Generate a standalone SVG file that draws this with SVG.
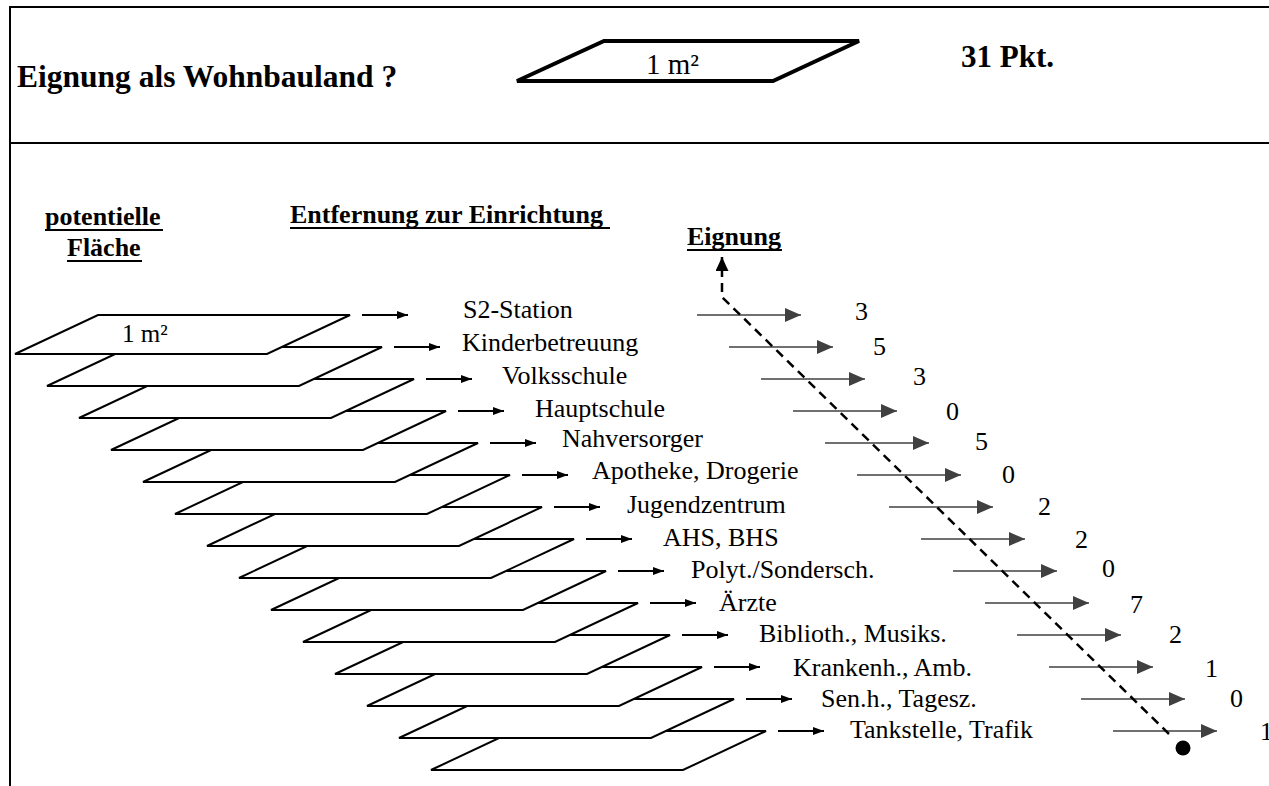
<svg xmlns="http://www.w3.org/2000/svg" width="1269" height="786" viewBox="0 0 1269 786">
<defs>
<marker id="ah" viewBox="0 0 10 10" refX="10" refY="5" markerWidth="11" markerHeight="8" markerUnits="userSpaceOnUse" orient="auto" preserveAspectRatio="none"><path d="M0,0 L10,5 L0,10 z" fill="#000"/></marker>
<marker id="ahg" viewBox="0 0 10 10" refX="10" refY="5" markerWidth="16" markerHeight="14" markerUnits="userSpaceOnUse" orient="auto" preserveAspectRatio="none"><path d="M0,0 L10,5 L0,10 z" fill="#404040"/></marker>
<marker id="ahb" viewBox="0 0 10 10" refX="10" refY="5" markerWidth="14" markerHeight="13" markerUnits="userSpaceOnUse" orient="auto" preserveAspectRatio="none"><path d="M0,0 L10,5 L0,10 z" fill="#000"/></marker>
</defs>
<style>
.t{font-family:"Liberation Serif","Times New Roman",serif;fill:#000}
.b{font-weight:bold}
.lbl{font-size:26px}
.num{font-size:26px}
.hd{font-size:26px;font-weight:bold}
.pg{fill:#fff;stroke:#000;stroke-width:2}
.la{stroke:#000;stroke-width:2;marker-end:url(#ah)}
.ra{stroke:#404040;stroke-width:1.6;marker-end:url(#ahg)}
.ln{stroke:#000;stroke-width:2;fill:none}
.ul{stroke:#000;stroke-width:2}
</style>
<rect width="1269" height="786" fill="#fff"/>
<g id="frame">
<line class="ln" x1="10" y1="7" x2="10" y2="786"/>
<line class="ln" x1="9" y1="7" x2="1269" y2="7"/>
<line class="ln" x1="9" y1="143" x2="1269" y2="143"/>
</g>
<g id="header">
<text class="t b" x="17" y="87" font-size="31.5">Eignung als Wohnbauland ?</text>
<polygon points="517,81 604,41 859,41 773,81" fill="#fff" stroke="#000" stroke-width="4" stroke-linejoin="miter"/>
<text class="t" x="646" y="74" font-size="29">1 m²</text>
<text class="t b" x="961" y="67" font-size="31">31 Pkt.</text>
</g>
<g id="headings">
<text class="t hd" x="45" y="225">potentielle</text>
<line class="ul" x1="45" y1="230" x2="163" y2="230"/>
<text class="t hd" x="67" y="256">Fläche</text>
<line class="ul" x1="67" y1="261" x2="142" y2="261"/>
<text class="t hd" x="290" y="223">Entfernung zur Einrichtung</text>
<line class="ul" x1="290" y1="228" x2="610" y2="228"/>
<text class="t hd" x="687" y="245">Eignung</text>
<line class="ul" x1="687" y1="250" x2="782" y2="250"/>
</g>
<g id="stack">
<polygon class="pg" points="431,770 514,731 766,731 683,770"/>
<polygon class="pg" points="399,738 482,699 734,699 651,738"/>
<polygon class="pg" points="367,706 450,667 702,667 619,706"/>
<polygon class="pg" points="335,674 418,635 670,635 587,674"/>
<polygon class="pg" points="303,642 386,603 638,603 555,642"/>
<polygon class="pg" points="271,610 354,571 606,571 523,610"/>
<polygon class="pg" points="239,578 322,539 574,539 491,578"/>
<polygon class="pg" points="207,546 290,507 542,507 459,546"/>
<polygon class="pg" points="175,514 258,475 510,475 427,514"/>
<polygon class="pg" points="143,482 226,443 478,443 395,482"/>
<polygon class="pg" points="111,450 194,411 446,411 363,450"/>
<polygon class="pg" points="79,418 162,379 414,379 331,418"/>
<polygon class="pg" points="47,386 130,347 382,347 299,386"/>
<polygon class="pg" points="15,354 98,315 350,315 267,354"/>
<text class="t" x="122" y="342" font-size="25">1 m²</text>
</g>
<g id="connectors">
<line class="la" x1="362" y1="315" x2="408" y2="315"/>
<line class="la" x1="394" y1="347" x2="440" y2="347"/>
<line class="la" x1="426" y1="379" x2="472" y2="379"/>
<line class="la" x1="458" y1="411" x2="504" y2="411"/>
<line class="la" x1="490" y1="443" x2="536" y2="443"/>
<line class="la" x1="522" y1="475" x2="568" y2="475"/>
<line class="la" x1="554" y1="507" x2="600" y2="507"/>
<line class="la" x1="586" y1="539" x2="632" y2="539"/>
<line class="la" x1="618" y1="571" x2="664" y2="571"/>
<line class="la" x1="650" y1="603" x2="696" y2="603"/>
<line class="la" x1="682" y1="635" x2="728" y2="635"/>
<line class="la" x1="714" y1="667" x2="760" y2="667"/>
<line class="la" x1="746" y1="699" x2="792" y2="699"/>
<line class="la" x1="778" y1="731" x2="824" y2="731"/>
<line class="ra" x1="697" y1="315" x2="801" y2="315"/>
<line class="ra" x1="729" y1="347" x2="833" y2="347"/>
<line class="ra" x1="761" y1="379" x2="865" y2="379"/>
<line class="ra" x1="793" y1="411" x2="897" y2="411"/>
<line class="ra" x1="825" y1="443" x2="929" y2="443"/>
<line class="ra" x1="857" y1="475" x2="961" y2="475"/>
<line class="ra" x1="889" y1="507" x2="993" y2="507"/>
<line class="ra" x1="921" y1="539" x2="1025" y2="539"/>
<line class="ra" x1="953" y1="571" x2="1057" y2="571"/>
<line class="ra" x1="985" y1="603" x2="1089" y2="603"/>
<line class="ra" x1="1017" y1="635" x2="1121" y2="635"/>
<line class="ra" x1="1049" y1="667" x2="1153" y2="667"/>
<line class="ra" x1="1081" y1="699" x2="1185" y2="699"/>
<line class="ra" x1="1113" y1="731" x2="1217" y2="731"/>
<path d="M1169,734 L722,297 L722,257" fill="none" stroke="#000" stroke-width="2.5" stroke-dasharray="9,6" marker-end="url(#ahb)"/>
<circle cx="1183" cy="748" r="7.5" fill="#000"/>
</g>
<g id="labels">
<text class="t lbl" x="463" y="318">S2-Station</text>
<text class="t lbl" x="462" y="351">Kinderbetreuung</text>
<text class="t lbl" x="502" y="384">Volksschule</text>
<text class="t lbl" x="535" y="417">Hauptschule</text>
<text class="t lbl" x="562" y="447">Nahversorger</text>
<text class="t lbl" x="592" y="479">Apotheke, Drogerie</text>
<text class="t lbl" x="627" y="513">Jugendzentrum</text>
<text class="t lbl" x="663" y="546">AHS, BHS</text>
<text class="t lbl" x="691" y="578">Polyt./Sondersch.</text>
<text class="t lbl" x="719" y="611">Ärzte</text>
<text class="t lbl" x="759" y="642">Biblioth., Musiks.</text>
<text class="t lbl" x="793" y="676">Krankenh., Amb.</text>
<text class="t lbl" x="821" y="707">Sen.h., Tagesz.</text>
<text class="t lbl" x="850" y="738">Tankstelle, Trafik</text>
</g>
<g id="values">
<text class="t num" x="855" y="320">3</text>
<text class="t num" x="873" y="355">5</text>
<text class="t num" x="913" y="385">3</text>
<text class="t num" x="946" y="420">0</text>
<text class="t num" x="975" y="450">5</text>
<text class="t num" x="1002" y="483">0</text>
<text class="t num" x="1038" y="515">2</text>
<text class="t num" x="1075" y="548">2</text>
<text class="t num" x="1102" y="577">0</text>
<text class="t num" x="1130" y="613">7</text>
<text class="t num" x="1169" y="643">2</text>
<text class="t num" x="1205" y="677">1</text>
<text class="t num" x="1230" y="707">0</text>
<text class="t num" x="1260" y="740">1</text>
</g>
</svg>
